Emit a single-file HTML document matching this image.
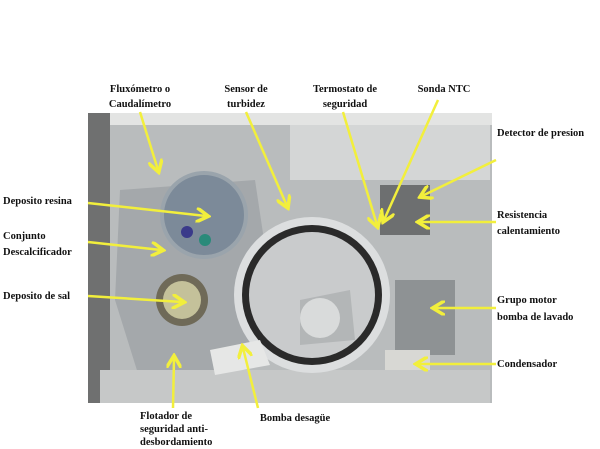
<!DOCTYPE html>
<html><head><meta charset="utf-8"><style>
html,body{margin:0;padding:0;background:#fff;width:600px;height:449px;overflow:hidden}
text{font-family:"Liberation Serif",serif;font-weight:bold;font-size:10.5px;fill:#111}
</style></head><body>
<svg width="600" height="449" viewBox="0 0 600 449" xmlns="http://www.w3.org/2000/svg">
<defs><marker id="a" markerWidth="6" markerHeight="6" refX="4" refY="3" orient="auto"><path d="M0,0 L5,3 L0,6" fill="none" stroke="#f2ef3c" stroke-width="1.4"/></marker></defs>
<!-- photo -->
<rect x="88" y="113" width="404" height="290" fill="#b9bcbd"/>
<rect x="290" y="125" width="200" height="55" fill="#d4d6d6"/>
<rect x="88" y="113" width="404" height="12" fill="#e3e4e3"/>
<rect x="88" y="113" width="22" height="290" fill="#6f7070"/>
<path d="M120,190 L255,180 L270,280 L240,370 L140,380 L115,300 Z" fill="#a4a8ab"/>
<rect x="100" y="370" width="390" height="33" fill="#c6c8c8"/>
<circle cx="204" cy="215" r="42" fill="#7c8a99" stroke="#9aa4ac" stroke-width="4"/>
<circle cx="187" cy="232" r="6" fill="#3a3a8a"/><circle cx="205" cy="240" r="6" fill="#2a8a7a"/>
<circle cx="182" cy="300" r="26" fill="#6f6a58"/><circle cx="182" cy="300" r="19" fill="#c4c19a"/>
<rect x="395" y="280" width="60" height="75" fill="#8e9294"/>
<rect x="380" y="185" width="50" height="50" fill="#6d6f70"/>
<rect x="385" y="350" width="45" height="20" fill="#d8d8d4"/>
<circle cx="312" cy="295" r="78" fill="#dcdedf"/>
<circle cx="312" cy="295" r="70" fill="#2a2a2a"/>
<circle cx="312" cy="295" r="63" fill="#c9cbcc"/>
<path d="M300,300 L350,290 L355,340 L300,345 Z" fill="#b3b6b7"/>
<circle cx="320" cy="318" r="20" fill="#d9dbdb"/>
<path d="M210,350 L260,340 L270,365 L215,375 Z" fill="#e6e7e6"/>
<!-- arrows -->
<g stroke="#f2ef3c" stroke-width="2.5" fill="none" marker-end="url(#a)">
<line x1="140" y1="112" x2="158" y2="170"/>
<line x1="246" y1="112" x2="287" y2="206"/>
<line x1="343" y1="112" x2="377" y2="225"/>
<line x1="438" y1="100" x2="384" y2="220"/>
<line x1="496" y1="160" x2="422" y2="196"/>
<line x1="88" y1="203" x2="206" y2="216"/>
<line x1="88" y1="242" x2="161" y2="250"/>
<line x1="88" y1="296" x2="182" y2="302"/>
<line x1="496" y1="222" x2="420" y2="222"/>
<line x1="496" y1="308" x2="435" y2="308"/>
<line x1="496" y1="364" x2="418" y2="364"/>
<line x1="173" y1="408" x2="174" y2="358"/>
<line x1="258" y1="408" x2="243" y2="348"/>
</g>
<!-- labels -->
<g text-anchor="middle">
<text x="140" y="92">Fluxómetro o</text><text x="140" y="107">Caudalímetro</text>
<text x="246" y="92">Sensor de</text><text x="246" y="107">turbidez</text>
<text x="345" y="92">Termostato de</text><text x="345" y="107">seguridad</text>
<text x="444" y="92">Sonda NTC</text>
<text x="295" y="421">Bomba desagüe</text>
</g>
<text x="497" y="136">Detector de presion</text>
<text x="3" y="204">Deposito resina</text>
<text x="3" y="239">Conjunto</text><text x="3" y="255">Descalcificador</text>
<text x="3" y="299">Deposito de sal</text>
<text x="497" y="218">Resistencia</text><text x="497" y="234">calentamiento</text>
<text x="497" y="303">Grupo motor</text><text x="497" y="320">bomba de lavado</text>
<text x="497" y="367">Condensador</text>
<text x="140" y="419">Flotador de</text><text x="140" y="432">seguridad anti-</text><text x="140" y="445">desbordamiento</text>
</svg>
</body></html>
